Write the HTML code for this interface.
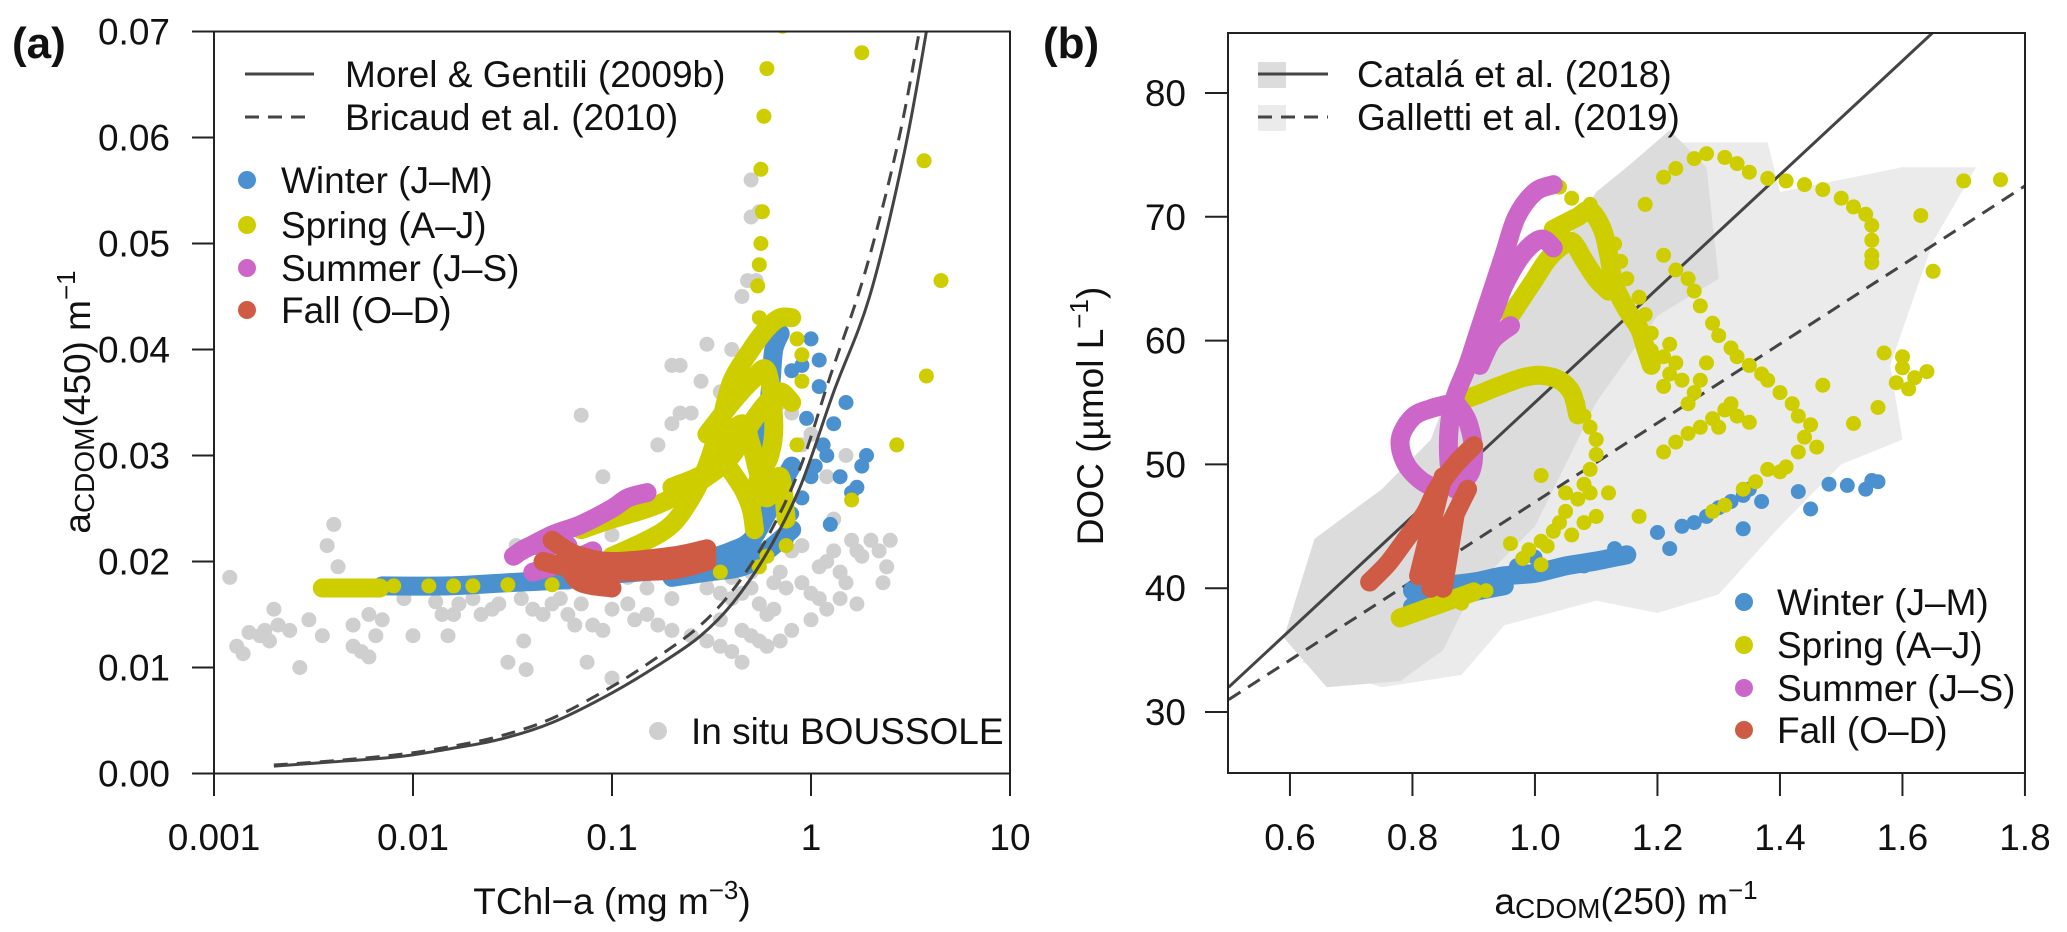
<!DOCTYPE html>
<html><head><meta charset="utf-8"><title>CDOM vs Chl and DOC</title>
<style>
html,body{margin:0;padding:0;background:#fff;}
svg{display:block;font-family:"Liberation Sans",sans-serif;}
</style></head>
<body>
<svg id="chart" width="2067" height="932" viewBox="0 0 2067 932" xmlns="http://www.w3.org/2000/svg">
<defs>
<clipPath id="clipA"><rect x="214" y="31" width="796" height="743"/></clipPath>
<clipPath id="clipB"><rect x="1228" y="33" width="797" height="740"/></clipPath>
</defs>
<g id="panelA"></g>
<g id="panelB"></g>
</svg>
<script>
// ---------- Panel A data ----------
const aTickX=[0.001,0.01,0.1,1,10];
const aTickXLabels=["0.001","0.01","0.1","1","10"];
const aTickY=[0,0.01,0.02,0.03,0.04,0.05,0.06,0.07];
const aTickYLabels=["0.00","0.01","0.02","0.03","0.04","0.05","0.06","0.07"];
const morelChl=[0.002,0.004,0.0086,0.015,0.027,0.05,0.1,0.17,0.275,0.405,0.6,0.88,1.3,1.97,2.9,3.8,4.5];
const morelA=[0.0007,0.0011,0.0016,0.0023,0.0032,0.0048,0.0076,0.0102,0.0129,0.0161,0.0208,0.027,0.036,0.045,0.058,0.07,0.079];
const bricChl=[0.002,0.004,0.0086,0.015,0.027,0.05,0.1,0.17,0.275,0.405,0.6,0.88,1.25,1.85,2.7,3.5,4.2];
const bricA=[0.0008,0.0012,0.0018,0.0025,0.0035,0.0052,0.0082,0.011,0.0139,0.0173,0.0222,0.0288,0.0375,0.047,0.059,0.07,0.079];
const insituChl=[0.0012,0.0013,0.0014,0.0015,0.0017,0.0018,0.0019,0.002,0.0021,0.0024,0.0027,0.003,0.0035,0.0037,0.004,0.0042,0.005,0.005,0.0055,0.006,0.006,0.0065,0.007,0.009,0.01,0.012,0.013,0.014,0.015,0.016,0.017,0.02,0.022,0.025,0.027,0.03,0.033,0.035,0.036,0.037,0.04,0.045,0.05,0.055,0.06,0.065,0.07,0.075,0.08,0.09,0.1,0.1,0.12,0.13,0.15,0.17,0.2,0.25,0.3,0.35,0.4,0.45,0.5,0.6,0.7,0.8,0.07,0.09,0.1,0.12,0.15,0.17,0.2,0.22,0.25,0.2,0.22,0.3,0.28,0.35,0.4,0.45,0.5,0.5,0.48,0.55,0.53,0.25,0.3,0.35,0.4,0.45,0.5,0.55,0.6,0.65,0.7,0.8,0.9,1.0,1.1,1.2,1.3,1.4,1.5,1.6,1.7,1.8,2.0,2.2,2.4,1.0,1.2,1.4,1.7,1.3,2.3,0.9,1.0,1.5,0.8,0.7,1.2,2.5,0.9,0.6,0.5,0.4,0.3,0.2,0.15,0.12,0.08,0.06,0.55,0.45,0.35,1.1,0.75,0.65];
const insituA=[0.0185,0.012,0.0113,0.0133,0.013,0.0135,0.0125,0.0155,0.014,0.0135,0.01,0.0145,0.013,0.0215,0.0235,0.0195,0.014,0.012,0.0115,0.011,0.015,0.013,0.0145,0.0165,0.013,0.0175,0.0162,0.015,0.013,0.015,0.016,0.0165,0.015,0.0155,0.016,0.0105,0.0215,0.0165,0.0125,0.0098,0.0155,0.015,0.016,0.0165,0.015,0.014,0.016,0.0105,0.014,0.0135,0.009,0.0155,0.016,0.0145,0.015,0.014,0.0135,0.013,0.0125,0.012,0.0115,0.0105,0.013,0.012,0.0125,0.0135,0.0338,0.028,0.0225,0.025,0.025,0.031,0.033,0.034,0.034,0.0385,0.0385,0.0405,0.037,0.036,0.04,0.045,0.0525,0.056,0.0465,0.053,0.0465,0.02,0.0185,0.017,0.0165,0.017,0.0175,0.016,0.015,0.018,0.019,0.021,0.018,0.017,0.0165,0.02,0.021,0.019,0.018,0.022,0.021,0.0205,0.022,0.021,0.0195,0.0145,0.0155,0.0165,0.016,0.024,0.018,0.031,0.032,0.03,0.034,0.035,0.028,0.022,0.0215,0.0205,0.019,0.0185,0.0175,0.0165,0.0175,0.0185,0.0175,0.018,0.0125,0.0135,0.0145,0.0195,0.0175,0.0155];
const aWinterTracks=[
 [[0.007,0.0177],[0.015,0.0177],[0.03,0.018],[0.06,0.0183],[0.1,0.0188],[0.2,0.0193],[0.3,0.0202],[0.4,0.021],[0.5,0.022],[0.6,0.0245],[0.7,0.027],[0.8,0.029]],
 [[0.55,0.029],[0.6,0.033],[0.63,0.037],[0.65,0.04],[0.7,0.0415]],
 [[0.2,0.0185],[0.3,0.019],[0.45,0.0195],[0.6,0.021],[0.8,0.023]]
];
const aWinterDots=[[1.05,0.029],[1.2,0.03],[1.0,0.028],[0.9,0.026],[1.4,0.028],[1.6,0.0265],[1.8,0.029],[1.1,0.0365],[0.95,0.0335],[0.8,0.0245],[0.75,0.022],[1.25,0.0235],[0.8,0.038],[1.0,0.041],[1.1,0.039],[1.3,0.033],[1.5,0.035],[1.9,0.03],[1.7,0.027],[0.9,0.0385],[1.15,0.031]];
const aSpringTracks=[
 [[0.0035,0.0175],[0.0045,0.0175],[0.0055,0.0175],[0.0068,0.0175]],
 [[0.1,0.0205],[0.15,0.022],[0.2,0.0235],[0.25,0.026],[0.3,0.029],[0.35,0.033],[0.4,0.037],[0.5,0.04],[0.6,0.042],[0.7,0.043],[0.8,0.043]],
 [[0.07,0.023],[0.1,0.024],[0.15,0.025],[0.2,0.026],[0.3,0.028],[0.4,0.03],[0.5,0.033],[0.6,0.035],[0.7,0.036],[0.8,0.035]],
 [[0.2,0.027],[0.3,0.0285],[0.35,0.031],[0.45,0.033],[0.5,0.031],[0.55,0.028],[0.6,0.026],[0.7,0.028],[0.75,0.024]],
 [[0.3,0.032],[0.4,0.035],[0.5,0.037],[0.6,0.038],[0.65,0.033],[0.62,0.03],[0.55,0.028],[0.5,0.025]],
 [[0.35,0.03],[0.45,0.027],[0.5,0.025],[0.52,0.023]]
];
const aSpringDots=[[0.008,0.0177],[0.012,0.0177],[0.016,0.0177],[0.02,0.0177],[0.03,0.0178],[0.05,0.0178],[0.1,0.0185],[0.2,0.019],[0.35,0.019],[0.55,0.0195],[0.55,0.043],[0.54,0.046],[0.55,0.048],[0.56,0.050],[0.57,0.053],[0.56,0.057],[0.58,0.062],[0.6,0.0665],[0.72,0.0705],[1.8,0.068],[3.7,0.0578],[4.5,0.0465],[3.8,0.0375],[2.7,0.031],[0.85,0.041],[0.9,0.0395],[0.9,0.037],[0.85,0.031],[1.6,0.0258],[0.75,0.0215],[0.6,0.0205]];
const aSummerTracks=[
 [[0.035,0.021],[0.05,0.0225],[0.07,0.0235],[0.1,0.025],[0.12,0.026],[0.15,0.0265]],
 [[0.04,0.019],[0.06,0.02],[0.08,0.021]],
 [[0.032,0.0205],[0.04,0.0215],[0.06,0.0215]]
];
const aFallTracks=[
 [[0.05,0.022],[0.06,0.021],[0.07,0.0205],[0.1,0.02],[0.2,0.0205],[0.3,0.0212]],
 [[0.045,0.02],[0.06,0.0195],[0.1,0.0193],[0.2,0.0198],[0.3,0.0205]],
 [[0.06,0.0195],[0.07,0.018],[0.1,0.0175]],
 [[0.1,0.019],[0.2,0.0192],[0.3,0.02]]
];
// ---------- Panel B data ----------
const bTickX=[0.6,0.8,1.0,1.2,1.4,1.6,1.8];
const bTickXLabels=["0.6","0.8","1.0","1.2","1.4","1.6","1.8"];
const bTickY=[30,40,50,60,70,80];
const bTickYLabels=["30","40","50","60","70","80"];
const catalaX=[0.5,1.8];
const catalaY=[32,91.8];
const gallettiX=[0.5,1.8];
const gallettiY=[31,72.5];
const bShadeLight=[[0.62,34],[0.72,44],[0.95,56],[1.1,72],[1.2,76],[1.38,76],[1.4,72],[1.6,74],[1.72,74],[1.65,68],[1.58,58],[1.6,52],[1.5,50],[1.4,45],[1.3,39.5],[1.2,38],[1.1,39],[0.95,37],[0.88,33],[0.75,32]];
const bShadeDark=[[0.66,32],[0.59,36],[0.64,44],[0.75,48],[0.83,52],[0.86,56],[0.9,59],[0.95,63],[1.05,68],[1.1,72],[1.15,74],[1.22,77],[1.28,74],[1.3,65],[1.2,62],[1.1,55],[1.0,45],[0.9,40],[0.85,35],[0.78,32.5]];
const bWinterTracks=[
 [[0.80,39.8],[0.85,40.2],[0.9,40.5],[0.95,41],[1.0,41.2],[1.05,41.8],[1.1,42.2],[1.15,42.7]],
 [[0.8,38.5],[0.85,39],[0.9,39.7],[0.95,40.2]]
];
const bWinterDots=[[1.2,44.5],[1.22,43.2],[1.24,45],[1.26,45.3],[1.28,45.8],[1.3,46.5],[1.32,47],[1.34,47.5],[1.35,48],[1.34,44.8],[1.37,47],[1.43,47.8],[1.45,46.4],[1.48,48.4],[1.51,48.3],[1.54,48],[1.55,48.7],[1.56,48.6],[0.97,41.8],[1.0,42.5],[1.13,43.2],[1.08,41.8]];
const bSpringTracks=[
 [[0.96,62],[0.98,63.5],[1.0,65],[1.02,66.5],[1.04,67.5],[1.06,68],[1.08,66.5],[1.10,65],[1.12,64]],
 [[1.03,69],[1.05,69.5],[1.07,70],[1.09,70.5],[1.11,69],[1.12,67],[1.13,64.5],[1.15,62.5],[1.17,61],[1.18,59.5],[1.19,58]],
 [[0.86,54.8],[0.9,55.5],[0.94,56.3],[0.98,57],[1.01,57.2],[1.04,56.8],[1.06,55.8],[1.07,54]],
 [[0.78,37.6],[0.82,38.3],[0.86,39],[0.9,39.7]]
];
const bSpringDots=[[1.18,71.0],[1.21,73.2],[1.23,73.9],[1.26,74.7],[1.28,75.1],[1.31,74.8],[1.33,74.3],[1.35,73.6],[1.38,73.1],[1.41,72.9],[1.44,72.6],[1.47,72.2],[1.50,71.5],[1.52,70.8],[1.54,70.2],[1.55,69.3],[1.55,68.1],[1.55,66.9],[1.55,66.3],
 [1.70,72.9],[1.76,73.0],[1.63,70.1],[1.65,65.6],[1.57,59],[1.60,58.7],[1.60,57.8],[1.62,57],[1.59,56.6],[1.61,56.1],[1.64,57.5],[1.56,54.6],[1.47,56.4],[1.52,53.3],[1.46,51.4],
 [1.04,72.4],[1.06,71.5],[1.09,71],[1.10,70.2],[1.11,69.3],[1.13,67.8],[1.14,66.4],[1.15,65],[1.17,63.5],[1.18,62.1],[1.19,60.6],[1.19,59.2],[1.19,58.2],
 [1.21,66.9],[1.23,65.7],[1.25,65],[1.26,64],[1.27,62.8],[1.29,61.4],[1.30,60.4],[1.32,59.4],[1.33,58.7],[1.35,58],[1.37,57.3],[1.38,56.8],[1.40,55.8],[1.42,54.9],[1.43,53.9],[1.45,53.2],[1.44,52.2],[1.43,51],[1.41,49.8],[1.40,49.4],[1.38,49.6],
 [1.21,56.3],[1.22,57.3],[1.23,58.2],[1.24,56.8],[1.25,54.9],[1.26,55.8],[1.27,56.8],[1.28,58.2],[1.22,59.7],[1.21,58.7],
 [1.21,51],[1.23,51.8],[1.25,52.5],[1.27,53],[1.29,53.7],[1.31,54.4],[1.32,54.9],[1.33,53.9],[1.35,53.4],[1.30,53],
 [1.06,56.1],[1.07,54.9],[1.08,53.9],[1.09,53],[1.10,52],[1.10,50.8],[1.09,49.6],[1.08,48.4],[1.07,47.2],[1.05,46.2],[1.04,45.3],[1.03,44.6],[1.01,43.8],[0.99,43.1],[0.98,42.4],[0.96,43.6],
 [1.01,49.1],[1.05,47.7],[1.09,47.7],[1.12,47.7],[1.10,45.8],[1.08,45.3],[1.06,44.3],[1.02,43.4],[1.01,41.9],[1.17,45.8],[1.36,48.6],[1.34,48],[1.31,46.7],[1.29,46.2],[0.92,39.8],[0.88,38.8]];
const bSummerTracks=[
 [[1.03,72.6],[1.0,72],[0.97,70],[0.95,67],[0.93,64],[0.91,61],[0.89,58],[0.87,55.5],[0.86,53],[0.86,50],[0.87,48]],
 [[1.03,67.5],[1.01,68.2],[0.98,67],[0.95,64.5],[0.93,62],[0.91,60.5]],
 [[0.87,55],[0.83,54.5],[0.80,53.8],[0.78,52],[0.79,50],[0.82,48.5],[0.85,48.2],[0.89,49],[0.9,51],[0.89,53.5],[0.87,55]],
 [[0.96,61.2],[0.93,60],[0.91,58]]
];
const bFallTracks=[
 [[0.73,40.5],[0.76,42],[0.79,44],[0.82,46],[0.84,48],[0.87,50],[0.9,51.5]],
 [[0.81,41],[0.82,43],[0.83,45],[0.84,47],[0.85,49]],
 [[0.83,40],[0.84,42],[0.85,44],[0.87,46],[0.89,48]],
 [[0.85,40],[0.86,43],[0.87,46]]
];
const COL={winter:"#4b91cf",spring:"#cdcd00",summer:"#cc66c8",fall:"#d05b44",gray:"#cfcfcf"};
const NS="http://www.w3.org/2000/svg";
function mk(tag,attrs,parent){const e=document.createElementNS(NS,tag);for(const k in attrs)e.setAttribute(k,attrs[k]);parent.appendChild(e);return e;}
const axA={x:v=>214+199*Math.log10(v/0.001),y:v=>773.5-v*10600};
const axB={x:v=>1228.7+(v-0.5)*612.5,y:v=>93+(80-v)*12.38};
function pathD(ax,pts){return pts.map((p,i)=>(i?"L":"M")+ax.x(p[0]).toFixed(1)+","+ax.y(p[1]).toFixed(1)).join("");}
function smoothD(ax,pts){const P=pts.map(p=>[ax.x(p[0]),ax.y(p[1])]);let d="M"+P[0][0].toFixed(1)+","+P[0][1].toFixed(1);
 for(let i=0;i<P.length-1;i++){const p0=P[Math.max(i-1,0)],p1=P[i],p2=P[i+1],p3=P[Math.min(i+2,P.length-1)];
 const c1=[p1[0]+(p2[0]-p0[0])/6,p1[1]+(p2[1]-p0[1])/6],c2=[p2[0]-(p3[0]-p1[0])/6,p2[1]-(p3[1]-p1[1])/6];
 d+="C"+c1[0].toFixed(1)+","+c1[1].toFixed(1)+" "+c2[0].toFixed(1)+","+c2[1].toFixed(1)+" "+p2[0].toFixed(1)+","+p2[1].toFixed(1);}return d;}
function drawTracks(g,ax,tracks,col,name){tracks.forEach(t=>{const p=mk("path",{d:smoothD(ax,t),fill:"none",stroke:col,"stroke-width":19,"stroke-linecap":"round","stroke-linejoin":"round"},g);

});}
function drawDots(g,ax,pts,col,name){pts.forEach(q=>{const c=mk("circle",{cx:ax.x(q[0]).toFixed(1),cy:ax.y(q[1]).toFixed(1),r:7.5,fill:col},g);

});}
function txt(g,x,y,s,anchor,size,name,extra){const t=mk("text",Object.assign({x:x,y:y,"text-anchor":anchor||"start","font-size":size||37,fill:"#111"},extra||{}),g);t.innerHTML=s;

return t;}

// ---------- Panel A ----------
const A=document.getElementById("panelA");
const Ad=mk("g",{"clip-path":"url(#clipA)"},A);
drawDots(Ad,axA,insituChl.map((c,i)=>[c,insituA[i]]),COL.gray,"insitu");
drawTracks(Ad,axA,aWinterTracks,COL.winter,"winter");
drawDots(Ad,axA,aWinterDots,COL.winter,"winter");
drawTracks(Ad,axA,aSpringTracks,COL.spring,"spring");
drawDots(Ad,axA,aSpringDots,COL.spring,"spring");
drawTracks(Ad,axA,aSummerTracks,COL.summer,"summer");
drawTracks(Ad,axA,aFallTracks,COL.fall,"fall");
const mg=mk("path",{d:smoothD(axA,morelChl.map((c,i)=>[c,morelA[i]])),fill:"none",stroke:"#444","stroke-width":3},Ad);


const br=mk("path",{d:smoothD(axA,bricChl.map((c,i)=>[c,bricA[i]])),fill:"none",stroke:"#444","stroke-width":3,"stroke-dasharray":"14,9"},Ad);


const fa=mk("rect",{x:214,y:31.5,width:796,height:742,fill:"none",stroke:"#222","stroke-width":2},A);


aTickX.forEach((v,i)=>{const x=axA.x(v);const l=mk("line",{x1:x,x2:x,y1:773.5,y2:796,stroke:"#222","stroke-width":2},A);


txt(A,x,850,aTickXLabels[i],"middle",37,'x-tick-label');});
aTickY.forEach((v,i)=>{const y=axA.y(v);const l=mk("line",{x1:192,x2:214,y1:y,y2:y,stroke:"#222","stroke-width":2},A);


txt(A,170,y+13,aTickYLabels[i],"end",37,'y-tick-label');});
txt(A,612,914,'TChl−a (mg m<tspan font-size="26" dy="-15">−3</tspan><tspan dy="15">)</tspan>',"middle",37,'x-axis-title');
txt(A,0,0,'a<tspan font-size="28" dy="4">CDOM</tspan><tspan dy="-4">(450) m</tspan><tspan font-size="26" dy="-15">−1</tspan>',"middle",37,'y-axis-title',{transform:"translate(90,402) rotate(-90)"});
txt(A,12,58,'(a)',"start",44,'panel-label-a',{"font-weight":"bold"});
const la=mk("g",{},A);
let l1=mk("line",{x1:245,x2:314,y1:74,y2:74,stroke:"#444","stroke-width":3},la);
let l2=mk("line",{x1:245,x2:314,y1:117,y2:117,stroke:"#444","stroke-width":3,"stroke-dasharray":"14,9"},la);
txt(la,345,87,'Morel &amp; Gentili (2009b)',"start",37,'legend-entry-morel');
txt(la,345,130,'Bricaud et al. (2010)',"start",37,'legend-entry-bricaud');
[["Winter (J–M)",COL.winter,180],["Spring (A–J)",COL.spring,225],["Summer (J–S)",COL.summer,268],["Fall (O–D)",COL.fall,310]].forEach(e=>{
 const c=mk("circle",{cx:247,cy:e[2],r:9,fill:e[1]},la);
 txt(la,281,e[2]+13,e[0],"start",37,'legend-entry');});
const ci=mk("circle",{cx:658,cy:731,r:9,fill:COL.gray},la);
txt(la,691,744,'In situ BOUSSOLE',"start",37,'legend-entry-insitu');

// ---------- Panel B ----------
const B=document.getElementById("panelB");
const Bd=mk("g",{"clip-path":"url(#clipB)"},B);
const s1=mk("path",{d:pathD(axB,bShadeLight)+"Z",fill:"#ebebeb"},Bd);
const s2=mk("path",{d:pathD(axB,bShadeDark)+"Z",fill:"#dcdcdc"},Bd);
const cl=mk("path",{d:pathD(axB,catalaX.map((x,i)=>[x,catalaY[i]])),stroke:"#444","stroke-width":3,fill:"none"},Bd);
const gl=mk("path",{d:pathD(axB,gallettiX.map((x,i)=>[x,gallettiY[i]])),stroke:"#444","stroke-width":3,fill:"none","stroke-dasharray":"14,9"},Bd);
drawTracks(Bd,axB,bWinterTracks,COL.winter,"winter");
drawDots(Bd,axB,bWinterDots,COL.winter,"winter");
drawTracks(Bd,axB,bSpringTracks,COL.spring,"spring");
drawDots(Bd,axB,bSpringDots,COL.spring,"spring");
drawTracks(Bd,axB,bSummerTracks,COL.summer,"summer");
drawTracks(Bd,axB,bFallTracks,COL.fall,"fall");
const fb=mk("rect",{x:1228,y:33,width:797,height:740,fill:"none",stroke:"#222","stroke-width":2},B);


bTickX.forEach((v,i)=>{const x=axB.x(v);const l=mk("line",{x1:x,x2:x,y1:773,y2:796,stroke:"#222","stroke-width":2},B);


txt(B,x,850,bTickXLabels[i],"middle",37,'x-tick-label');});
bTickY.forEach((v,i)=>{const y=axB.y(v);const l=mk("line",{x1:1205,x2:1228,y1:y,y2:y,stroke:"#222","stroke-width":2},B);


txt(B,1186,y+13,bTickYLabels[i],"end",37,'y-tick-label');});
txt(B,1626,914,'a<tspan font-size="28" dy="4">CDOM</tspan><tspan dy="-4">(250) m</tspan><tspan font-size="26" dy="-15">−1</tspan>',"middle",37,'x-axis-title');
txt(B,0,0,'DOC (µmol L<tspan font-size="26" dy="-15">−1</tspan><tspan dy="15">)</tspan>',"middle",37,'y-axis-title',{transform:"translate(1103,416) rotate(-90)"});
txt(B,1043,58,'(b)',"start",44,'panel-label-b',{"font-weight":"bold"});
const lb=mk("g",{},B);
let r1=mk("rect",{x:1258,y:62,width:28,height:26,fill:"#dcdcdc"},lb);
let r2=mk("rect",{x:1258,y:105,width:28,height:26,fill:"#ebebeb"},lb);
let b1=mk("line",{x1:1258,x2:1328,y1:74,y2:74,stroke:"#444","stroke-width":3},lb);
let b2=mk("line",{x1:1258,x2:1328,y1:117,y2:117,stroke:"#444","stroke-width":3,"stroke-dasharray":"14,9"},lb);
txt(lb,1357,87,'Catalá et al. (2018)',"start",37,'legend-entry-catala');
txt(lb,1357,130,'Galletti et al. (2019)',"start",37,'legend-entry-galletti');
[["Winter (J–M)",COL.winter,602],["Spring (A–J)",COL.spring,645],["Summer (J–S)",COL.summer,688],["Fall (O–D)",COL.fall,730]].forEach(e=>{
 const c=mk("circle",{cx:1744,cy:e[2],r:9,fill:e[1]},lb);
 txt(lb,1777,e[2]+13,e[0],"start",37,'legend-entry');});
</script>
</body></html>
